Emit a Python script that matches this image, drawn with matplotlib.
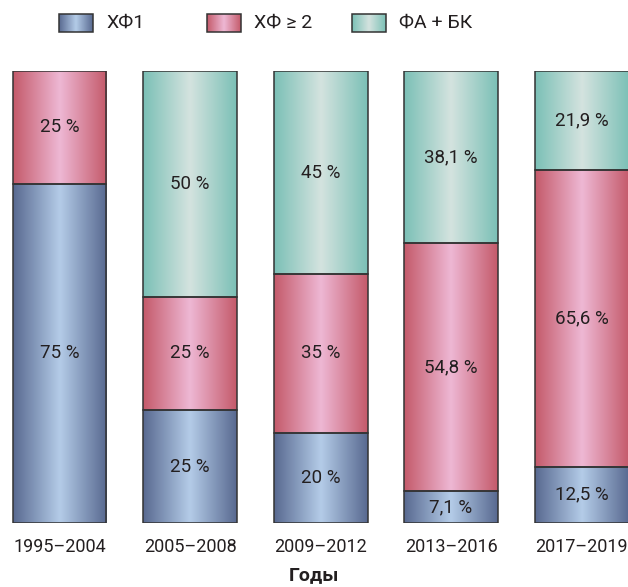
import matplotlib.pyplot as plt
import numpy as np
from matplotlib.colors import LinearSegmentedColormap

plt.rcParams['font.family'] = ['Roboto', 'DejaVu Sans']

years = ['1995–2004', '2005–2008', '2009–2012', '2013–2016', '2017–2019']
series = ['ХФ1', 'ХФ ≥ 2', 'ФА + БК']
hf1 = [75, 25, 20, 7.1, 12.5]
hf2 = [25, 25, 35, 54.8, 65.6]
fa_bk = [0, 50, 45, 38.1, 21.9]
labels = [
    ['75 %', '25 %', '20 %', '7,1 %', '12,5 %'],
    ['25 %', '25 %', '35 %', '54,8 %', '65,6 %'],
    ['', '50 %', '45 %', '38,1 %', '21,9 %'],
]

# edge / centre colours for the shaded bars
shades = [
    ('#586990', '#b4cce8'),
    ('#c45a6a', '#eeb8d4'),
    ('#7bc0b6', '#d4e3df'),
]
cmaps = [LinearSegmentedColormap.from_list(f'g{i}', [a, b, a]) for i, (a, b) in enumerate(shades)]
grad = np.linspace(0, 1, 256).reshape(1, -1)

fig = plt.figure(figsize=(6.28, 5.87), dpi=100)
ax = fig.add_axes([0, 64 / 587, 1, 452 / 587])

x = np.arange(len(years))
width = 0.72
bottom = np.zeros(len(years))
for k, vals in enumerate([hf1, hf2, fa_bk]):
    vals = np.array(vals, dtype=float)
    for i in range(len(years)):
        if vals[i] <= 0:
            continue
        x0, x1 = x[i] - width / 2, x[i] + width / 2
        y0, y1 = bottom[i], bottom[i] + vals[i]
        ax.imshow(grad, cmap=cmaps[k], extent=(x0, x1, y0, y1), aspect='auto',
                  interpolation='bicubic', zorder=1)
        ax.add_patch(plt.Rectangle((x0, y0), width, vals[i], fill=False,
                                   edgecolor='#333333', lw=1.1, zorder=2))
        ax.text(x[i], y0 + vals[i] / 2, labels[k][i], ha='center', va='center',
                fontsize=13.5, color='#231f20', zorder=3)
    bottom += vals

ax.set_xlim(-0.456, 4.356)
ax.set_ylim(0, 100)
ax.axis('off')

for i, yr in enumerate(years):
    ax.text(x[i], -5.4, yr, ha='center', va='center', fontsize=13, color='#231f20')
ax.text(0.5, -11.6, 'Годы', transform=ax.get_yaxis_transform(), ha='center', va='center',
        fontsize=14, fontweight='bold', color='#231f20')

# legend drawn by hand so the swatches keep the shading
lax = fig.add_axes([0, 1 - 60 / 587, 1, 60 / 587])
lax.set_xlim(0, 628)
lax.set_ylim(60, 0)
lax.axis('off')
swatch_x = [59, 207, 352]
for k, name in enumerate(series):
    sx = swatch_x[k]
    lax.imshow(grad, cmap=cmaps[k], extent=(sx, sx + 34, 32, 14), aspect='auto',
               interpolation='bicubic')
    lax.add_patch(plt.Rectangle((sx, 14), 34, 18, fill=False, edgecolor='#333333', lw=1.1))
    lax.text(sx + 47, 23, name, ha='left', va='center', fontsize=14, color='#231f20')

fig.savefig('out.png', dpi=100)
